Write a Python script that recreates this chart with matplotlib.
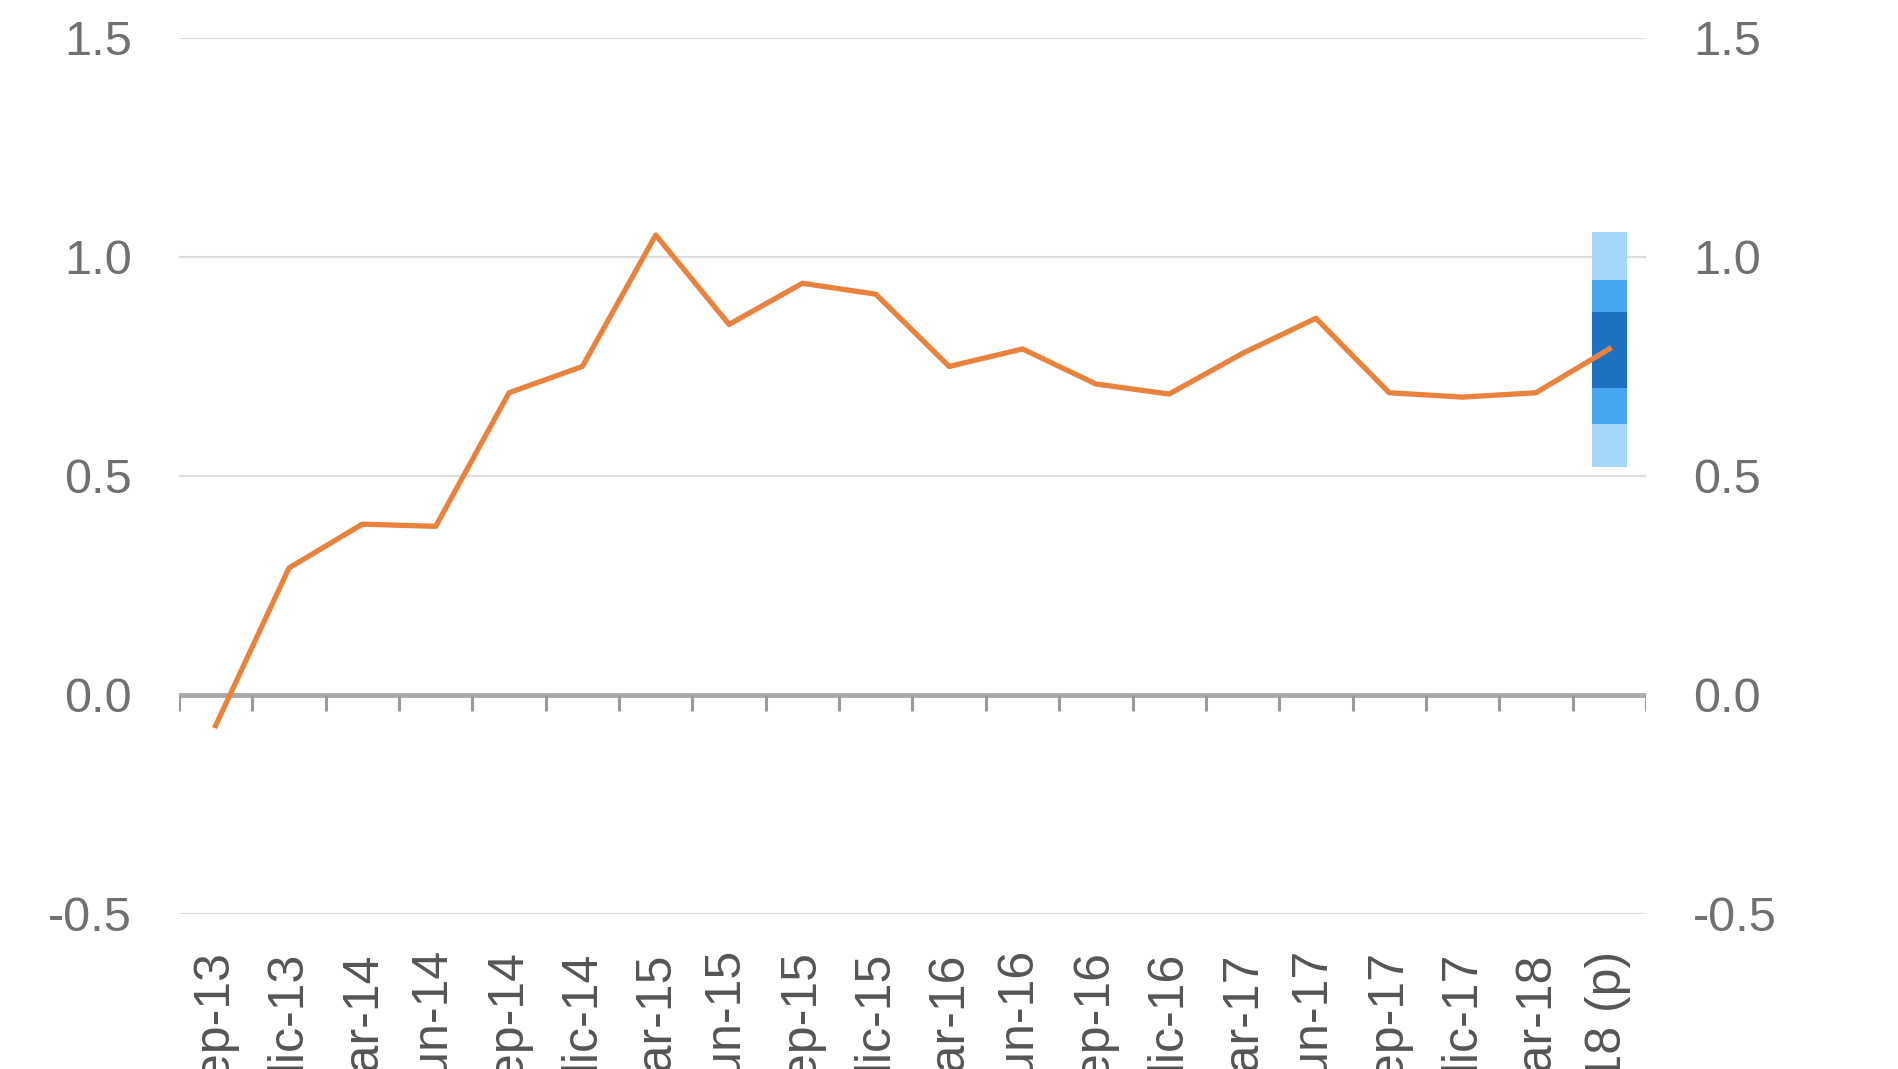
import numpy as np
import matplotlib
matplotlib.use("Agg")
import matplotlib.pyplot as plt

plt.rcParams["font.family"] = ["Liberation Sans", "DejaVu Sans"]

quarters = ["sep-13", "dic-13", "mar-14", "jun-14", "sep-14", "dic-14",
            "mar-15", "jun-15", "sep-15", "dic-15", "mar-16", "jun-16",
            "sep-16", "dic-16", "mar-17", "jun-17", "sep-17", "dic-17",
            "mar-18", "jun-18 (p)"]
values = [-0.07, 0.29, 0.39, 0.385, 0.69, 0.75, 1.05, 0.846, 0.94, 0.915,
          0.75, 0.79, 0.71, 0.687, 0.78, 0.86, 0.69, 0.68, 0.69, 0.79]

# fan chart bands for the projection (bottom -> top edges)
fan_edges = [0.52, 0.618, 0.70, 0.874, 0.947, 1.057]
fan_colors = ["#a6d6f8", "#45a7ef", "#1c72c0", "#45a7ef", "#a6d6f8"]

yticks = [-0.5, 0.0, 0.5, 1.0, 1.5]

fig = plt.figure(figsize=(18.98, 10.69), dpi=100)
ax = fig.add_axes([0.0943, 0.145, 0.7729, 0.8195])

x = np.arange(len(quarters))

for yt in yticks:
    if yt != 0:
        ax.axhline(yt, color="#dcdcdc", lw=1.6, zorder=1)

# fan band on the last quarter
for lo, hi, c in zip(fan_edges[:-1], fan_edges[1:], fan_colors):
    ax.bar(x[-1], hi - lo, bottom=lo, width=0.48, color=c, lw=0, zorder=2)

ax.plot(x, values, color="#e8823c", lw=3.8, zorder=4)

# zero line with category boundary ticks
ax.axhline(0, color="#a9a9a9", lw=3.5, zorder=3)
ax.vlines(np.arange(len(quarters) + 1) - 0.5, -0.037, 0, color="#9a9a9a", lw=2.2, zorder=3)

ax.set_xlim(-0.5, len(quarters) - 0.5)
ax.set_ylim(-0.5, 1.5)
ax.set_yticks(yticks)
ax.set_yticklabels([f"{v:.1f}" for v in yticks])
ax.set_xticks(x)
ax.set_xticklabels(quarters, rotation=90)

ax.tick_params(axis="y", length=0, labelsize=35, colors="#707070", pad=34,
               labelright=True)
ax.tick_params(axis="x", length=0, labelsize=36, colors="#555555", pad=27)

for s in ax.spines.values():
    s.set_visible(False)

fig.savefig("out.png", dpi=100)
